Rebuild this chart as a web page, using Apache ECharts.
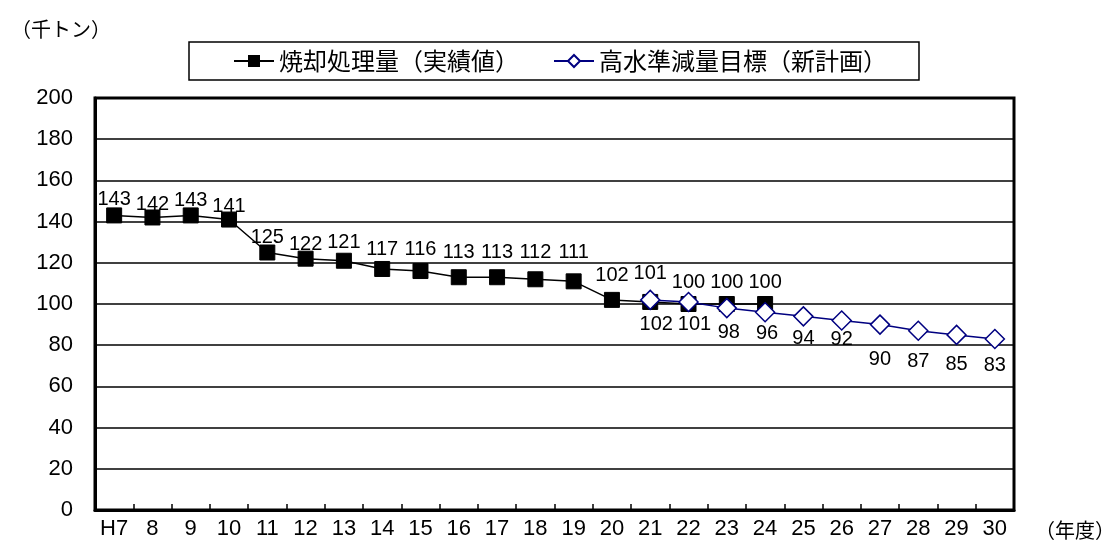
<!DOCTYPE html>
<html>
<head>
<meta charset="utf-8">
<script src="https://cdn.jsdelivr.net/npm/echarts@6/dist/echarts.min.js"></script>
<style>
  html, body { margin: 0; padding: 0; background: #fff; }
  #chart { width: 1103px; height: 545px; }
</style>
</head>
<body>
<div id="chart"></div>
<script>
// Fiscal years (Heisei)
const years = ['H7', '8', '9', '10', '11', '12', '13', '14', '15', '16', '17', '18',
               '19', '20', '21', '22', '23', '24', '25', '26', '27', '28', '29', '30'];

// Incineration amount, actual (thousand tonnes), H7–24
const actual = [143, 142, 143, 141, 125, 122, 121, 117, 116, 113, 113, 112,
                111, 102, 101, 100, 100, 100, null, null, null, null, null, null];

// High-level reduction target (new plan), 21–30
const target = [null, null, null, null, null, null, null, null, null, null, null, null,
                null, null, 102, 101, 98, 96, 94, 92, 90, 87, 85, 83];

// Y axis ticks
const yMin = 0, yMax = 200, yStep = 20;

// Extra vertical spacing of each value label from its marker (px)
const actualLabelGap = [0, -3, -1, -3, -1, -2, 2, 3, 6, 9, 9, 11, 13, 8, 12, 6, 6, 6, 0, 0, 0, 0, 0, 0];
const targetLabelGap = [0, 0, 0, 0, 0, 0, 0, 0, 0, 0, 0, 0, 0, 0, 2, 0, 2, -1, 0, -3, 13, 8, 7, 4];
// Sideways nudge of the target labels (px)
const targetLabelShift = [0, 0, 0, 0, 0, 0, 0, 0, 0, 0, 0, 0, 0, 0, 6, 6, 2, 2, 0, 0, 0, 0, 0, 0];

const NUM_FONT = '"Liberation Sans", Arial, sans-serif';
const JP_FONT = '"Noto Sans CJK JP", sans-serif';

function withLabelGap(values, gaps, dir, shifts) {
  return values.map((v, i) => v == null ? null : {
    value: v,
    label: { offset: [shifts ? shifts[i] : 0, dir * gaps[i]] }
  });
}

const chart = echarts.init(document.getElementById('chart'), null, { renderer: 'canvas' });

chart.setOption({
  animation: false,
  backgroundColor: '#fff',
  title: [
    { text: '（千トン）', left: 6, top: 14,
      textStyle: { fontFamily: JP_FONT, fontSize: 20, fontWeight: 'normal', color: '#000' } },
    { text: '（年度）', left: 1030, top: 515,
      textStyle: { fontFamily: JP_FONT, fontSize: 20, fontWeight: 'normal', color: '#000' } }
  ],
  legend: {
    left: 189, top: 42,
    padding: [7, 32, 7, 44],
    itemGap: 34,
    itemWidth: 40, itemHeight: 15,
    borderColor: '#000', borderWidth: 1.5,
    backgroundColor: '#fff',
    textStyle: { fontFamily: JP_FONT, fontSize: 24, color: '#000' },
    data: ['焼却処理量（実績値）', '高水準減量目標（新計画）']
  },
  grid: {
    left: 95, right: 89, top: 98, bottom: 35,
    show: true, borderColor: '#000', borderWidth: 3, backgroundColor: 'transparent'
  },
  xAxis: {
    type: 'category',
    data: years,
    boundaryGap: true,
    axisLine: { lineStyle: { color: '#000', width: 3 } },
    axisTick: { show: true, inside: true, length: 6, lineStyle: { color: '#000', width: 1.5 } },
    axisLabel: { color: '#000', fontFamily: NUM_FONT, fontSize: 22, margin: 8, interval: 0 },
    splitLine: { show: false }
  },
  yAxis: {
    type: 'value',
    min: yMin, max: yMax, interval: yStep,
    axisLine: { show: true, lineStyle: { color: '#000', width: 3 } },
    axisTick: { show: false },
    axisLabel: { color: '#000', fontFamily: NUM_FONT, fontSize: 22, margin: 22 },
    splitLine: { show: true, lineStyle: { color: '#000', width: 1.5 } }
  },
  series: [
    {
      name: '焼却処理量（実績値）',
      type: 'line',
      data: withLabelGap(actual, actualLabelGap, -1),
      symbol: 'rect',
      symbolSize: 15,
      connectNulls: false,
      itemStyle: { color: '#000', borderColor: '#000' },
      lineStyle: { color: '#000', width: 1.5 },
      label: {
        show: true, position: 'top', distance: -2,
        color: '#000', fontFamily: NUM_FONT, fontSize: 20
      },
      z: 2
    },
    {
      name: '高水準減量目標（新計画）',
      type: 'line',
      data: withLabelGap(target, targetLabelGap, 1, targetLabelShift),
      symbol: 'diamond',
      symbolSize: 19,
      itemStyle: { color: '#fff', borderColor: '#000080', borderWidth: 1.5 },
      lineStyle: { color: '#000080', width: 1.5 },
      label: {
        show: true, position: 'bottom', distance: 2,
        color: '#000', fontFamily: NUM_FONT, fontSize: 20
      },
      z: 3
    }
  ]
});
</script>
</body>
</html>
